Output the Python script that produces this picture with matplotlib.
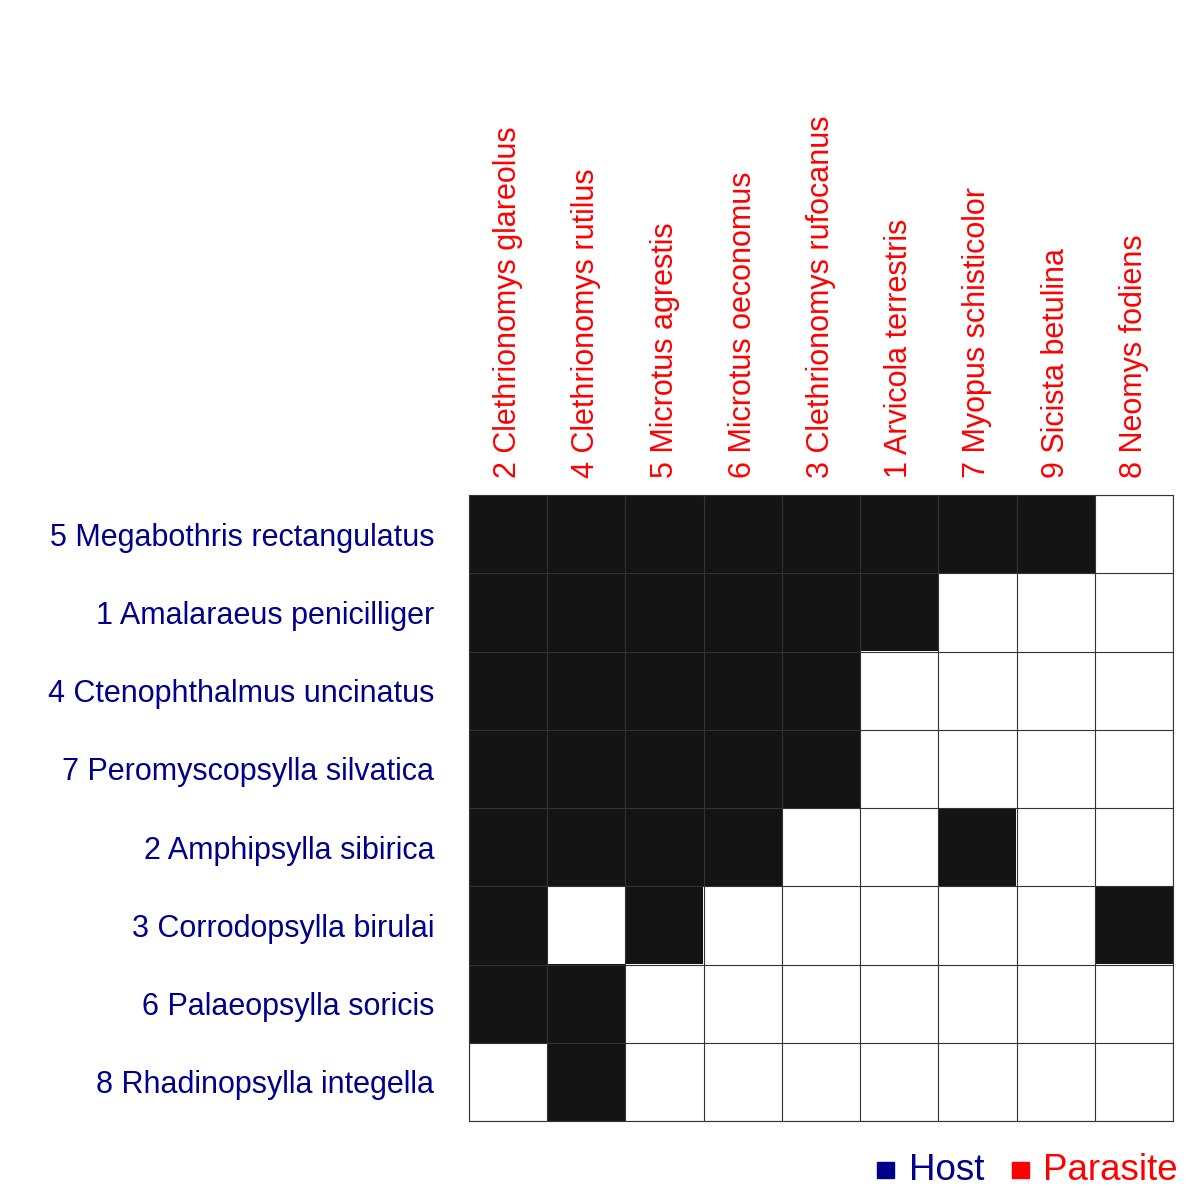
import numpy as np
import matplotlib.pyplot as plt
from matplotlib.colors import ListedColormap
from matplotlib.patches import Rectangle

plt.rcParams['font.family'] = ['Liberation Sans', 'DejaVu Sans']

# host species (columns) and parasite species (rows)
hosts = ["2 Clethrionomys glareolus", "4 Clethrionomys rutilus", "5 Microtus agrestis",
         "6 Microtus oeconomus", "3 Clethrionomys rufocanus", "1 Arvicola terrestris",
         "7 Myopus schisticolor", "9 Sicista betulina", "8 Neomys fodiens"]
parasites = ["5 Megabothris rectangulatus", "1 Amalaraeus penicilliger",
             "4 Ctenophthalmus uncinatus", "7 Peromyscopsylla silvatica",
             "2 Amphipsylla sibirica", "3 Corrodopsylla birulai",
             "6 Palaeopsylla soricis", "8 Rhadinopsylla integella"]

row_megabothris = [1, 1, 1, 1, 1, 1, 1, 1, 0]
row_amalaraeus = [1, 1, 1, 1, 1, 1, 0, 0, 0]
row_ctenophthalmus = [1, 1, 1, 1, 1, 0, 0, 0, 0]
row_peromyscopsylla = [1, 1, 1, 1, 1, 0, 0, 0, 0]
row_amphipsylla = [1, 1, 1, 1, 0, 0, 1, 0, 0]
row_corrodopsylla = [1, 0, 1, 0, 0, 0, 0, 0, 1]
row_palaeopsylla = [1, 1, 0, 0, 0, 0, 0, 0, 0]
row_rhadinopsylla = [0, 1, 0, 0, 0, 0, 0, 0, 0]

incidence = np.array([row_megabothris, row_amalaraeus, row_ctenophthalmus,
                      row_peromyscopsylla, row_amphipsylla, row_corrodopsylla,
                      row_palaeopsylla, row_rhadinopsylla])

fig = plt.figure(figsize=(12, 12), dpi=100)
ax = fig.add_axes([469 / 1200, 1 - 1121 / 1200, 704 / 1200, 626 / 1200])

cmap = ListedColormap(['white', '#141414'])
ax.imshow(incidence, cmap=cmap, vmin=0, vmax=1, aspect='auto', interpolation='nearest')

# cell borders
nr, nc = incidence.shape
ax.set_xticks(np.arange(-0.5, nc, 1), minor=True)
ax.set_yticks(np.arange(-0.5, nr, 1), minor=True)
ax.grid(which='minor', color='#333333', linewidth=0.8)
ax.tick_params(which='minor', length=0)

ax.set_xticks(np.arange(nc))
ax.set_xticklabels(hosts, rotation=90, color='red', fontsize=22)
ax.xaxis.tick_top()
ax.set_yticks(np.arange(nr))
ax.set_yticklabels(parasites, color='#00008B', fontsize=22)
ax.tick_params(which='major', length=0)
ax.tick_params(axis='x', pad=12)
ax.tick_params(axis='y', pad=25)

for s in ax.spines.values():
    s.set_color('#333333')
    s.set_linewidth(0.8)

# legend
fig.add_artist(Rectangle((877 / 1200, 1 - 1178 / 1200), 17 / 1200, 16 / 1200,
                         transform=fig.transFigure, color='#00008B'))
fig.text(909 / 1200, 1 - 1180 / 1200, "Host", color='#00008B', fontsize=26.5, va='baseline')
fig.add_artist(Rectangle((1012 / 1200, 1 - 1178 / 1200), 17 / 1200, 16 / 1200,
                         transform=fig.transFigure, color='red'))
fig.text(1043 / 1200, 1 - 1180 / 1200, "Parasite", color='red', fontsize=26.5, va='baseline')

fig.savefig('out.png', dpi=100)
